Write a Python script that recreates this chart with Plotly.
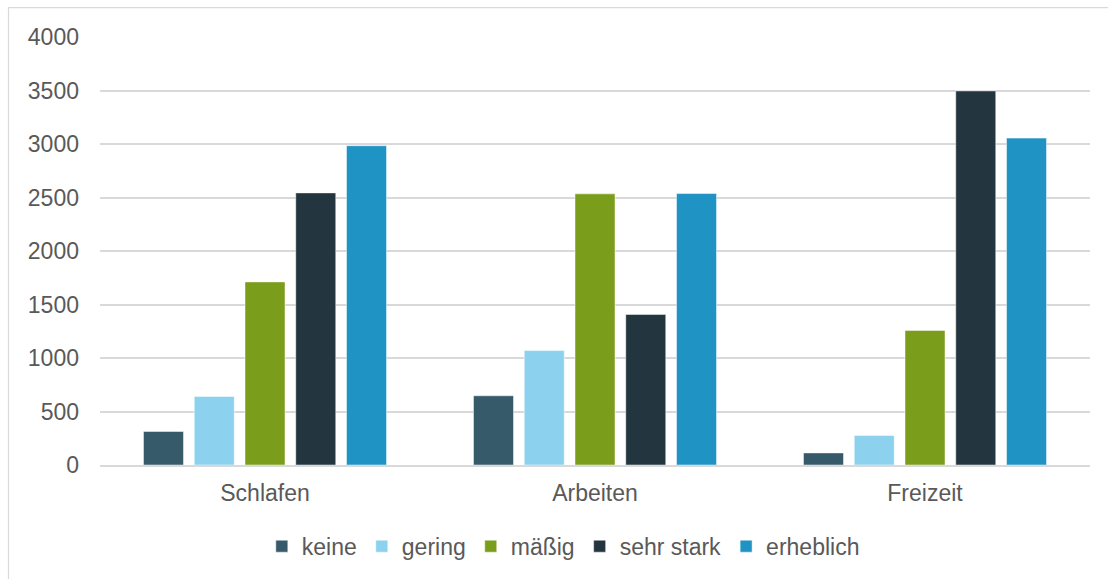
import plotly.graph_objects as go

categories = ["Schlafen", "Arbeiten", "Freizeit"]
series_names = ["keine", "gering", "mäßig", "sehr stark", "erheblich"]
keine = [313, 647, 113]
gering = [641, 1069, 275]
maessig = [1711, 2534, 1258]
sehr_stark = [2543, 1407, 3496]
erheblich = [2984, 2537, 3055]
colors = ["#375A6B", "#8CD1EE", "#7A9D1C", "#233640", "#2093C5"]
y_ticks = [0, 500, 1000, 1500, 2000, 2500, 3000, 3500, 4000]

values = [keine, gering, maessig, sehr_stark, erheblich]

fig = go.Figure()
for name, vals, col in zip(series_names, values, colors):
    fig.add_trace(go.Bar(
        x=categories, y=vals, name=name,
        marker=dict(color=col, line=dict(color="rgba(255,255,255,0.6)", width=0.8)),
    ))

font_family = "Liberation Sans, Arial, sans-serif"
fig.update_layout(
    width=1108, height=579,
    margin=dict(l=100, r=18, t=37, b=112.5),
    paper_bgcolor="white", plot_bgcolor="white",
    barmode="group", bargap=0.231, bargroupgap=0.212,
    font=dict(family=font_family, size=23, color="#595959"),
    showlegend=True,
    legend=dict(
        orientation="h", x=0.468, xanchor="center", y=-0.187, yanchor="middle",
        font=dict(size=23, color="#595959"), itemwidth=30,
        traceorder="normal", bgcolor="rgba(0,0,0,0)",
    ),
    xaxis=dict(
        showgrid=False, showline=True, linecolor="#D9D9D9", linewidth=1.5,
        ticks="", tickfont=dict(size=23, color="#595959"),
        ticklabelstandoff=7,
    ),
    yaxis=dict(
        range=[0, 4000], tickvals=y_ticks, showgrid=True, gridcolor="#D9D9D9",
        gridwidth=1.5, zeroline=False, showline=False, ticks="",
        tickfont=dict(size=23, color="#595959"), ticklabelstandoff=20,
    ),
    shapes=[dict(
        type="rect", xref="paper", yref="paper",
        x0=(8.5 - 100) / 990, x1=(1120 - 100) / 990,
        y0=(466.5 - 600) / 429.5, y1=(466.5 - 7.5) / 429.5,
        line=dict(color="#D9D9D9", width=1.2), fillcolor="rgba(0,0,0,0)",
        layer="below",
    )],
)

fig.write_html("out.html")
